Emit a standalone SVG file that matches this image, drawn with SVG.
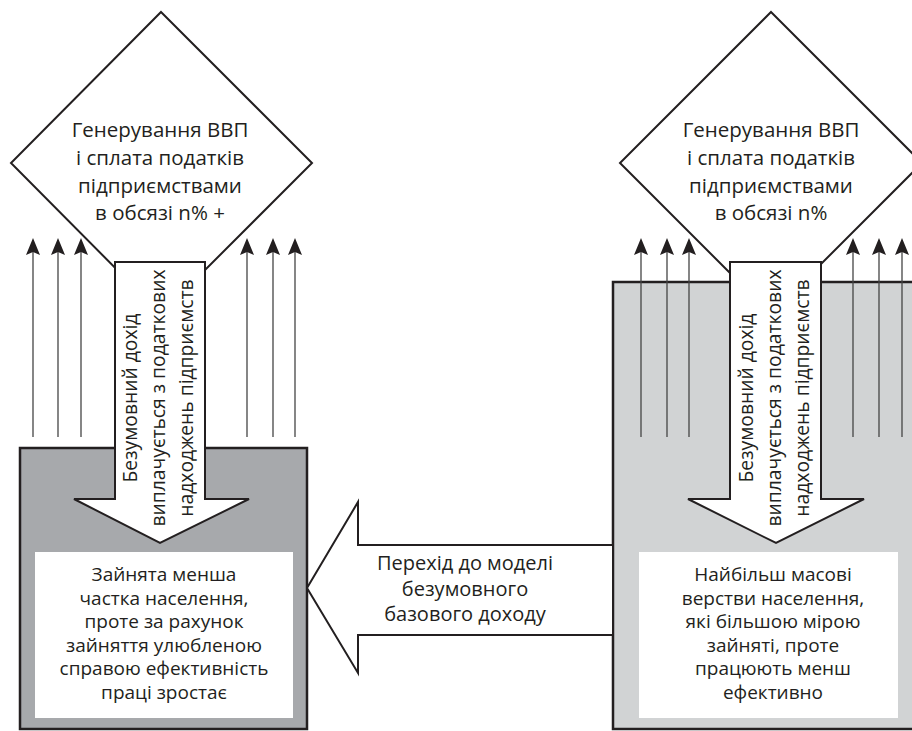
<svg xmlns="http://www.w3.org/2000/svg" width="912" height="731" viewBox="0 0 912 731">
<style>
text{font-family:"Open Sans","Noto Sans","Liberation Sans",sans-serif;fill:#231f20;text-anchor:middle}
.d{font-size:20.5px}
.b{font-size:19px}
.a{font-size:20px}
.v{font-size:19.3px}
.frame{stroke:#231f20;stroke-width:2.5}
.shape{fill:#fff;stroke:#231f20;stroke-width:2}
.up{stroke:#444;stroke-width:1.3;fill:none;marker-end:url(#ah)}
</style>
<defs>
<marker id="ah" markerUnits="userSpaceOnUse" markerWidth="18" markerHeight="14" viewBox="0 0 18 14" refX="9" refY="7" orient="auto">
<path d="M0,0 L17,7 L0,14 L3,7 z" fill="#231f20"/>
</marker>
</defs>
<rect width="912" height="731" fill="#fff"/>

<g id="left-box">
<rect class="frame" x="20" y="448" width="287" height="281" fill="#a7a9ac"/>
</g>
<g id="right-box">
<rect class="frame" x="613" y="282" width="310" height="447" fill="#d1d3d4"/>
</g>

<g id="left-diamond">
<polygon class="shape" points="161,12 312,163 161,314 11,163"/>
<text class="d" x="160" y="137">Генерування ВВП</text>
<text class="d" x="160" y="165">і сплата податків</text>
<text class="d" x="160" y="193">підприємствами</text>
<text class="d" x="160" y="220">в обсязі n% +</text>
</g>
<g id="right-diamond">
<polygon class="shape" points="771,12 922,163 771,314 620,163"/>
<text class="d" x="771" y="137">Генерування ВВП</text>
<text class="d" x="771" y="165">і сплата податків</text>
<text class="d" x="771" y="193">підприємствами</text>
<text class="d" x="771" y="220">в обсязі n%</text>
</g>

<g id="connectors">
<line class="up" x1="33" y1="437" x2="33" y2="246"/>
<line class="up" x1="58" y1="437" x2="58" y2="246"/>
<line class="up" x1="81" y1="437" x2="81" y2="246"/>
<line class="up" x1="247" y1="437" x2="247" y2="246"/>
<line class="up" x1="273" y1="437" x2="273" y2="246"/>
<line class="up" x1="295" y1="437" x2="295" y2="246"/>
<line class="up" x1="641" y1="437" x2="641" y2="246"/>
<line class="up" x1="667" y1="437" x2="667" y2="246"/>
<line class="up" x1="689" y1="437" x2="689" y2="246"/>
<line class="up" x1="853" y1="437" x2="853" y2="246"/>
<line class="up" x1="879" y1="437" x2="879" y2="246"/>
<line class="up" x1="902" y1="437" x2="902" y2="246"/>
</g>

<g id="left-flow">
<polygon class="shape" points="115,262 205,262 205,499 249,499 160,543 74,499 115,499"/>
<g transform="translate(0,398) rotate(-90)">
<text class="v" x="0" y="137">Безумовний дохід</text>
<text class="v" x="0" y="165">виплачується з податкових</text>
<text class="v" x="0" y="193">надходжень підприємств</text>
</g>
</g>
<g id="right-flow">
<polygon class="shape" points="730,262 821,262 821,499 864,499 776,543 688,499 730,499"/>
<g transform="translate(0,398) rotate(-90)">
<text class="v" x="0" y="753">Безумовний дохід</text>
<text class="v" x="0" y="781">виплачується з податкових</text>
<text class="v" x="0" y="809">надходжень підприємств</text>
</g>
</g>

<g id="left-result">
<rect x="35" y="552" width="258" height="166" fill="#fff"/>
<text class="b" x="164" y="581">Зайнята менша</text>
<text class="b" x="164" y="604.5">частка населення,</text>
<text class="b" x="164" y="628">проте за рахунок</text>
<text class="b" x="164" y="651.5">зайняття улюбленою</text>
<text class="b" x="164" y="675">справою ефективність</text>
<text class="b" x="164" y="698.5">праці зростає</text>
</g>
<g id="right-result">
<rect x="639" y="552" width="259" height="166" fill="#fff"/>
<text class="b" x="773" y="581">Найбільш масові</text>
<text class="b" x="773" y="604.5">верстви населення,</text>
<text class="b" x="773" y="628">які більшою мірою</text>
<text class="b" x="773" y="651.5">зайняті, проте</text>
<text class="b" x="773" y="675">працюють менш</text>
<text class="b" x="773" y="698.5">ефективно</text>
</g>

<g id="transition">
<polygon class="shape" points="307,588 358,502 358,545 613,545 613,635 358,635 358,673"/>
<text class="a" x="465" y="570">Перехід до моделі</text>
<text class="a" x="465" y="595.5">безумовного</text>
<text class="a" x="465" y="621">базового доходу</text>
</g>
</svg>
